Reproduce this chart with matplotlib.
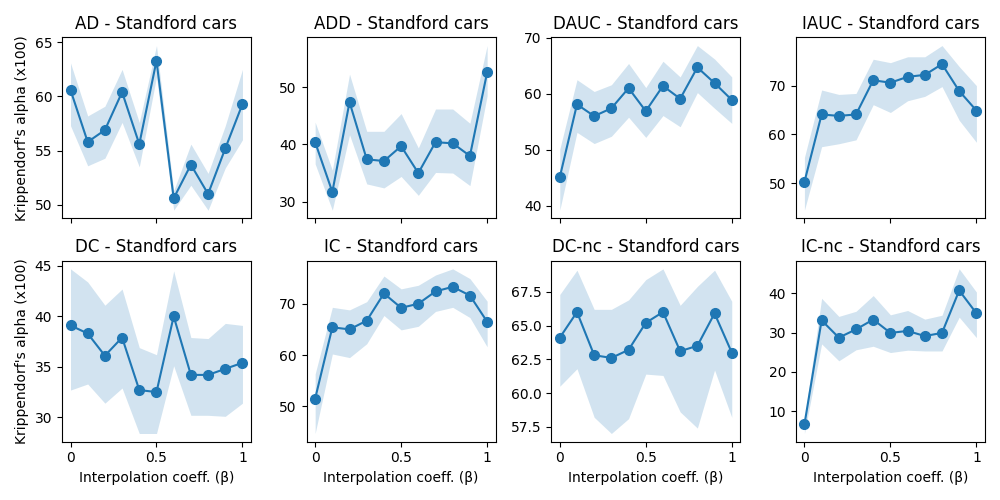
import matplotlib.pyplot as plt
import numpy as np

## data

betas = [0, 0.1, 0.2, 0.3, 0.4, 0.5, 0.6, 0.7, 0.8, 0.9, 1]
metrics = ["AD", "ADD", "DAUC", "IAUC", "DC", "IC", "DC-nc", "IC-nc"]

ad_mean = [60.6, 55.8, 56.9, 60.4, 55.6, 63.3, 50.6, 53.7, 51.0, 55.2, 59.3]
ad_low = [57.3, 53.6, 54.3, 57.6, 53.5, 61.8, 49.5, 51.8, 49.5, 53.4, 56.0]
ad_high = [63.1, 58.2, 59.1, 62.5, 57.6, 64.7, 51.3, 55.6, 52.9, 57.3, 62.5]

add_mean = [40.4, 31.7, 47.4, 37.4, 37.1, 39.7, 35.0, 40.4, 40.2, 38.0, 52.6]
add_low = [36.6, 28.5, 41.7, 33.1, 32.4, 34.4, 31.1, 35.1, 35.0, 32.8, 48.5]
add_high = [43.9, 35.5, 52.3, 42.3, 42.3, 45.4, 39.4, 46.2, 46.2, 43.7, 57.3]

dauc_mean = [45.1, 58.1, 56.0, 57.4, 61.0, 56.9, 61.4, 59.1, 64.7, 61.9, 58.9]
dauc_low = [39.2, 53.1, 51.1, 52.4, 55.8, 52.2, 56.1, 54.1, 60.2, 57.4, 54.7]
dauc_high = [50.1, 62.5, 60.4, 61.6, 65.4, 61.1, 65.8, 63.0, 68.6, 66.2, 63.0]

iauc_mean = [50.3, 64.1, 63.8, 64.1, 71.1, 70.6, 71.8, 72.2, 74.4, 68.9, 64.9]
iauc_low = [44.5, 57.5, 58.1, 58.9, 66.1, 64.5, 66.9, 67.8, 69.8, 62.9, 58.4]
iauc_high = [55.3, 69.1, 68.2, 68.4, 75.4, 74.7, 75.9, 75.9, 78.2, 73.9, 70.0]

dc_mean = [39.1, 38.3, 36.1, 37.9, 32.7, 32.5, 40.0, 34.2, 34.2, 34.8, 35.4]
dc_low = [32.7, 33.3, 31.4, 32.9, 28.4, 28.4, 35.1, 30.2, 30.2, 30.1, 31.4]
dc_high = [44.7, 43.4, 41.1, 42.7, 36.9, 36.2, 44.5, 37.9, 37.8, 39.3, 39.1]

ic_mean = [51.5, 65.4, 65.0, 66.7, 72.0, 69.2, 70.0, 72.4, 73.3, 71.6, 66.5]
ic_low = [44.7, 60.2, 59.5, 62.2, 67.7, 64.9, 65.6, 68.5, 69.3, 67.3, 61.6]
ic_high = [56.3, 69.3, 68.8, 70.4, 75.4, 72.9, 73.6, 75.6, 76.8, 74.9, 70.5]

dcnc_mean = [64.1, 66.0, 62.8, 62.6, 63.2, 65.2, 66.0, 63.1, 63.5, 65.9, 63.0]
dcnc_low = [60.5, 61.8, 58.2, 57.0, 58.1, 61.4, 61.3, 58.6, 57.4, 61.7, 58.2]
dcnc_high = [67.3, 69.1, 66.2, 66.2, 66.9, 68.4, 69.2, 66.5, 67.9, 69.1, 66.8]

icnc_mean = [6.6, 33.1, 28.7, 30.8, 33.3, 29.9, 30.4, 29.1, 29.9, 40.7, 34.9]
icnc_low = [4.3, 27.1, 22.8, 25.6, 26.5, 24.9, 25.5, 25.3, 25.3, 33.9, 28.7]
icnc_high = [7.8, 38.7, 34.1, 35.4, 39.4, 34.5, 35.6, 33.4, 34.4, 46.2, 40.3]

means = [ad_mean, add_mean, dauc_mean, iauc_mean, dc_mean, ic_mean, dcnc_mean, icnc_mean]
lows = [ad_low, add_low, dauc_low, iauc_low, dc_low, ic_low, dcnc_low, icnc_low]
highs = [ad_high, add_high, dauc_high, iauc_high, dc_high, ic_high, dcnc_high, icnc_high]

## figure

fig, axs = plt.subplots(2, 4, figsize=(10, 5), sharex=True)
axs = axs.flatten()

for i, ax in enumerate(axs):
    ax.plot(betas, means[i], "-o", color="C0", markersize=7)
    ax.fill_between(betas, lows[i], highs[i], color="C0", alpha=0.2, linewidth=0)
    ax.set_title(metrics[i] + " - Standford cars")
    ax.set_xticks([0, 0.5, 1])
    ax.set_xticklabels(["0", "0.5", "1"])
    if i % 4 == 0:
        ax.set_ylabel("Krippendorf's alpha (x100)")
    if i >= 4:
        ax.set_xlabel("Interpolation coeff. (β)")

plt.tight_layout()
plt.savefig("out.png", dpi=100)
